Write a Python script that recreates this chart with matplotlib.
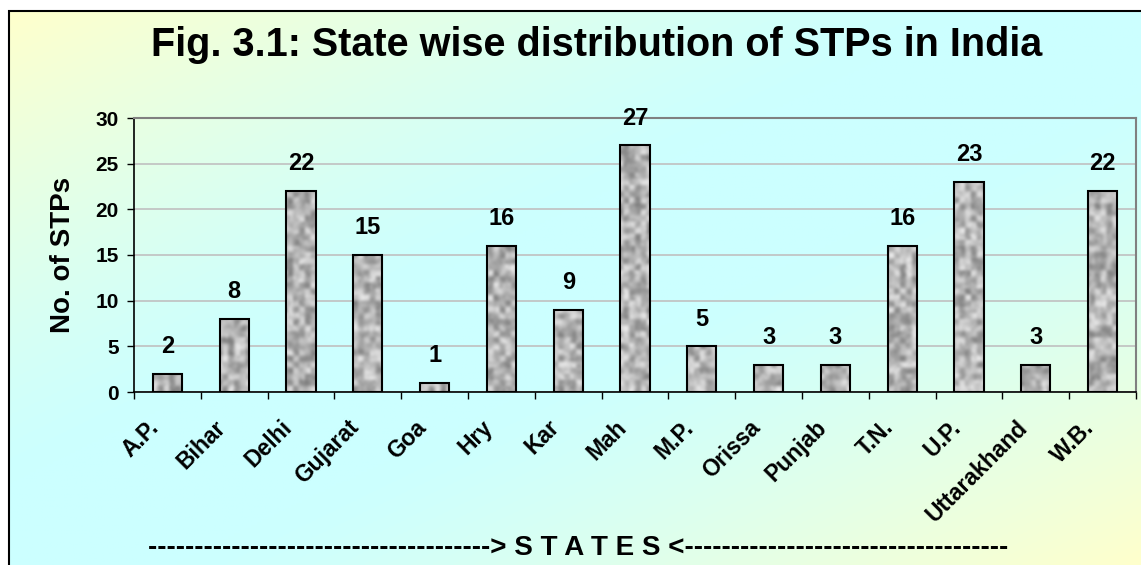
import numpy as np
import matplotlib.pyplot as plt
from matplotlib.patches import Rectangle
from matplotlib.path import Path
import matplotlib.transforms as mtransforms

# Chart data
states = ['A.P.', 'Bihar', 'Delhi', 'Gujarat', 'Goa', 'Hry', 'Kar', 'Mah', 'M.P.',
          'Orissa', 'Punjab', 'T.N.', 'U.P.', 'Uttarakhand', 'W.B.']
stp_counts = [2, 8, 22, 15, 1, 16, 9, 27, 5, 3, 3, 16, 23, 3, 22]
y_ticks = [0, 5, 10, 15, 20, 25, 30]

TITLE = 'Fig. 3.1: State wise distribution of STPs in India'
YLABEL = 'No. of STPs'
XLABEL = '-' * 37 + '> S T A T E S <' + '-' * 35

W, H, DPI = 1141, 565, 100
FONT = 'Liberation Sans'
plt.rcParams['font.family'] = [FONT, 'DejaVu Sans']
plt.rcParams['font.weight'] = 'bold'


def hash_noise(rows, cols, seed):
    """Deterministic hash noise in [0, 1], used only for the bar texture."""
    j, i = np.mgrid[0:rows, 0:cols].astype(float)
    v = np.sin(i * 12.9898 + j * 78.233 + seed * 37.719) * 43758.5453
    return v - np.floor(v)


fig = plt.figure(figsize=(W / DPI, H / DPI), dpi=DPI)
fig.patch.set_facecolor('white')

# Background panel with diagonal yellow -> cyan -> yellow gradient
bg = fig.add_axes([0, 0, 1, 1], zorder=0)
bg.set_xlim(0, 1)
bg.set_ylim(0, 1)
bg.axis('off')
gy, gx = np.mgrid[0:1:200j, 0:1:400j]
t = np.abs((gx + gy) - 1.0)
t = np.clip((t - 0.15) / 0.85, 0, 1) ** 1.3
yellow = np.array([1.0, 1.0, 0.80])
cyan = np.array([0.80, 1.0, 1.0])
grad = cyan[None, None, :] * (1 - t[..., None]) + yellow[None, None, :] * t[..., None]
x0f, y1f = 9 / W, 1 - 11 / H
bg.imshow(grad, extent=[x0f, 1, 0, y1f], origin='upper', aspect='auto', zorder=0)
bg.add_patch(Rectangle((x0f, -0.01), 1.0, y1f + 0.01, fill=False,
                       edgecolor='black', linewidth=1.5, zorder=1))

# Main axes
left, right, top, bottom = 134 / W, 1136 / W, 1 - 118 / H, 1 - 392 / H
ax = fig.add_axes([left, bottom, right - left, top - bottom], zorder=1)
ax.set_facecolor('none')

x = np.arange(len(states))
bars = ax.bar(x, stp_counts, width=0.44, facecolor='none', edgecolor='black',
              linewidth=1.5, zorder=3)

# granite-like texture clipped to the bars
coarse = np.kron(hash_noise(45, 170, 1), np.ones((2, 2)))
fine = hash_noise(90, 340, 2)
tex = 0.7 * coarse + 0.3 * fine
im = ax.imshow(tex, cmap='gray', vmin=-0.95, vmax=1.1, aspect='auto', origin='lower',
               extent=[-0.5, len(states) - 0.5, 0, 30], zorder=2, interpolation='bicubic')
clip = Path.make_compound_path(*[b.get_path().transformed(b.get_patch_transform()) for b in bars])
im.set_clip_path(clip, ax.transData)

for xi, v in zip(x, stp_counts):
    ax.annotate(str(v), (xi, v), xytext=(0, 19.5), textcoords='offset points',
                ha='center', va='center', fontsize=17, fontweight='bold', zorder=4)

ax.set_xlim(-0.5, len(states) - 0.5)
ax.set_ylim(0, 30)
ax.set_yticks(y_ticks)
ax.set_yticklabels([str(v) for v in y_ticks], fontsize=15, fontweight='bold')
ax.yaxis.grid(True, color='#c0c0c0', linewidth=1.2, zorder=1)
ax.set_axisbelow(True)

ax.set_xticks(x)
ax.set_xticklabels(states, rotation=45, ha='right', va='center', rotation_mode='anchor',
                   fontsize=16.5, fontweight='bold')
ax.set_xticks(np.arange(-0.5, len(states), 1), minor=True)
ax.tick_params(axis='x', which='major', length=0, pad=23)
ax.tick_params(axis='x', which='minor', length=5, direction='out', width=1)
ax.tick_params(axis='y', length=5, direction='out', width=1, pad=6)
offset = mtransforms.ScaledTranslation(-12 / DPI, 0, fig.dpi_scale_trans)
for lab in ax.get_xticklabels():
    lab.set_transform(lab.get_transform() + offset)

for s in ['top', 'right']:
    ax.spines[s].set_color('#808080')
    ax.spines[s].set_linewidth(1.5)
for s in ['left', 'bottom']:
    ax.spines[s].set_color('black')
    ax.spines[s].set_linewidth(1.2)

fig.text(597 / W, 1 - 45 / H, TITLE, ha='center', va='center', fontsize=28.5, fontweight='bold')
fig.text(63 / W, 1 - 255 / H, YLABEL, ha='center', va='center', rotation=90,
         fontsize=20, fontweight='bold')
fig.text(578 / W, 1 - 548 / H, XLABEL, ha='center', va='center', fontsize=20, fontweight='bold')

fig.savefig('out.png', dpi=DPI)
